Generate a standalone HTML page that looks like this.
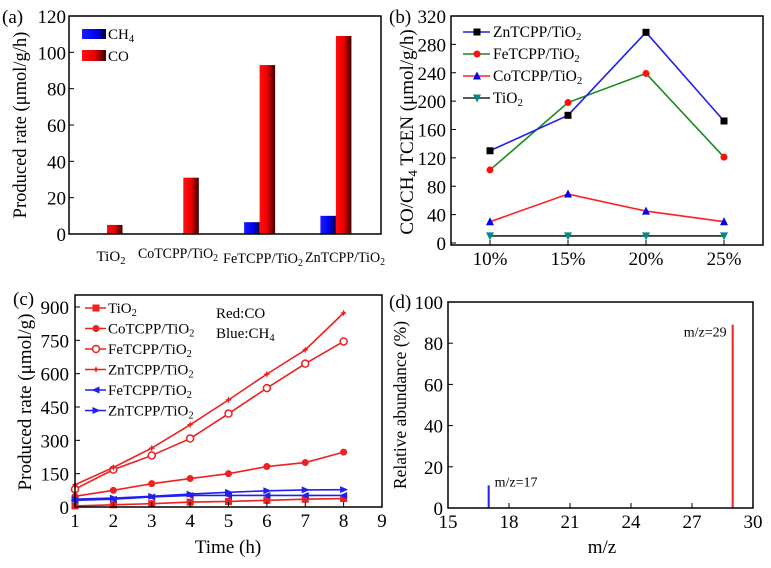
<!DOCTYPE html>
<html><head><meta charset="utf-8"><style>
body{margin:0;background:#fff}
svg{display:block;font-family:"Liberation Serif",serif}
</style></head><body>
<svg id="fig" width="771" height="568" viewBox="0 0 771 568"></svg>
<script>
// ---- data ----
const aCategories=["TiO2","CoTCPP/TiO2","FeTCPP/TiO2","ZnTCPP/TiO2"];
const aCH4=[0,0,6.5,10];
const aCO=[5,31,93,109];
const aTicks=[0,20,40,60,80,100,120];

const bCategories=["10%","15%","20%","25%"];
const bZn=[130,180,297,172];
const bFe=[103,198,239,121];
const bCo=[30,69,45,30];
const bTi=[10,10,10,10];
const bTicks=[0,40,80,120,160,200,240,280,320];

const cTimes=[1,2,3,4,5,6,7,8];
const cTiCO=[5,10,15,22,25,30,35,38];
const cCoCO=[48,75,105,128,150,182,200,247];
const cFeCO=[80,168,232,308,420,535,645,745];
const cZnCO=[100,178,265,370,482,598,707,873];
const cFeCH4=[30,35,45,52,52,52,52,52];
const cZnCH4=[35,40,48,58,66,73,77,78];
const cYTicks=[0,150,300,450,600,750,900];
const cXTicks=[1,2,3,4,5,6,7,8,9];

const dMz=[17,29];
const dAbund=[11,89];
const dLabels=["m/z=17","m/z=29"];
const dXTicks=[15,18,21,24,27,30];
const dYTicks=[0,20,40,60,80,100];

const NS="http://www.w3.org/2000/svg";
const svg=document.getElementById('fig');
const TF=19;
function el(tag,attrs,parent,text){const e=document.createElementNS(NS,tag);for(const k in attrs)e.setAttribute(k,attrs[k]);if(text!==undefined)e.textContent=text;(parent||svg).appendChild(e);return e;}
function sub(parent,x,y,base,subs,size,anchor,extra){
  const t=el('text',Object.assign({x:x,y:y,'font-size':size,'text-anchor':anchor||'start'},extra||{}),parent);
  const m=base.match(/^(.*?)(\d)(.*)$/);
  if(subs&&m){el('tspan',{},t,m[1]);el('tspan',{dy:3,'font-size':size*0.7},t,m[2]);if(m[3])el('tspan',{dy:-3},t,m[3]);}
  else t.textContent=base;
  return t;
}
function box(g,x0,y0,x1,y1){const r=el('rect',{x:x0,y:y0,width:x1-x0,height:y1-y0,fill:'none',stroke:'#000','stroke-width':1.5},g);}

// ===== Panel A =====
(function(){
  const g=el('g',{});
  const X0=69,X1=381,Y0=16,Y1=234;
  const ys=v=>Y1-(v/120)*(Y1-Y0);
  const gx=i=>107+i*76.3;
  const defs=el('defs',{},g);
  const lg=el('linearGradient',{id:'redg',x1:0,x2:1,y1:0,y2:0},defs);
  el('stop',{offset:0,'stop-color':'#ff1010'},lg);el('stop',{offset:0.5,'stop-color':'#ee0000'},lg);el('stop',{offset:1,'stop-color':'#3a0000'},lg);
  const lb=el('linearGradient',{id:'blueg',x1:0,x2:1,y1:0,y2:0},defs);
  el('stop',{offset:0,'stop-color':'#1a1aff'},lb);el('stop',{offset:0.6,'stop-color':'#0000ee'},lb);el('stop',{offset:1,'stop-color':'#00003a'},lb);
  const lblX=[111,178,263,345];
  const lblY=[261,258,263,262];
  aCategories.forEach((c,i)=>{
    if(aCH4[i]>0){const r=el('rect',{x:gx(i)-15.5,y:ys(aCH4[i]),width:15.5,height:Y1-ys(aCH4[i]),fill:'url(#blueg)'},g);}
    const r2=el('rect',{x:gx(i),y:ys(aCO[i]),width:15.5,height:Y1-ys(aCO[i]),fill:'url(#redg)'},g);
    const t=sub(g,lblX[i],lblY[i],c,true,15,'middle',i>0?{textLength:80,lengthAdjust:'spacingAndGlyphs'}:{});
  });
  box(g,X0,Y0,X1,Y1);
  aTicks.forEach(v=>{el('line',{x1:X0,x2:X0+5,y1:ys(v),y2:ys(v),stroke:'#000'},g);
    const t=el('text',{x:X0-3,y:ys(v)+7,'font-size':TF,'text-anchor':'end'},g,v);});
  const p=el('text',{x:2,y:23,'font-size':TF},g,'(a)');
  const yt=el('text',{transform:'translate(26,125) rotate(-90)','font-size':18.5,'text-anchor':'middle'},g,'Produced rate (μmol/g/h)');
  el('rect',{x:82,y:29,width:24,height:10,fill:'url(#blueg)'},g);
  const l1=sub(g,108,39,'CH4',true,15);
  el('rect',{x:82,y:50,width:24,height:11,fill:'url(#redg)'},g);
  const l2=el('text',{x:108,y:61,'font-size':15},g,'CO');
})();

function marker(g,type,x,y,color,s){
  s=s||3.5;
  if(type=='sq')return el('rect',{x:x-s,y:y-s,width:2*s,height:2*s,fill:color},g);
  if(type=='ci')return el('circle',{cx:x,cy:y,r:s,fill:color},g);
  if(type=='oc')return el('circle',{cx:x,cy:y,r:s,fill:'#fff',stroke:color,'stroke-width':1.5},g);
  if(type=='tu')return el('polygon',{points:`${x},${y-s-1} ${x-s-0.5},${y+s} ${x+s+0.5},${y+s}`,fill:color},g);
  if(type=='td')return el('polygon',{points:`${x},${y+s+1} ${x-s-0.5},${y-s} ${x+s+0.5},${y-s}`,fill:color},g);
  if(type=='tl')return el('polygon',{points:`${x-s-1},${y} ${x+s},${y-s} ${x+s},${y+s}`,fill:color},g);
  if(type=='tr')return el('polygon',{points:`${x+s+1},${y} ${x-s},${y-s} ${x-s},${y+s}`,fill:color},g);
  if(type=='st')return el('polygon',{points:`${x},${y-s} ${x+1},${y-1} ${x+s},${y} ${x+1},${y+1} ${x},${y+s} ${x-1},${y+1} ${x-s},${y} ${x-1},${y-1}`,fill:color},g);
}
function series(g,xs,ys,xf,yf,color,mk,mcolor,name){
  const pts=xs.map((x,i)=>xf(x,i)+','+yf(ys[i])).join(' ');
  const pl=el('polyline',{points:pts,fill:'none',stroke:color,'stroke-width':1.6},g);
  
  xs.forEach((x,i)=>{const m=marker(g,mk,xf(x,i),yf(ys[i]),mcolor);});
}

// ===== Panel B =====
(function(){
  const g=el('g',{});
  const X0=451,X1=763,Y0=16,Y1=245;
  const ys=v=>243-(v/320)*(243-16);
  const xf=(c,i)=>490+i*78;
  series(g,bCategories,bTi,xf,ys,'#222','td','#008b8b','line-tio2');
  series(g,bCategories,bCo,xf,ys,'#ff2020','tu','#0000ee','line-cotcpp');
  series(g,bCategories,bFe,xf,ys,'#1a8a1a','ci','#ff1010','line-fetcpp');
  series(g,bCategories,bZn,xf,ys,'#2020ee','sq','#000','line-zntcpp');
  box(g,X0,Y0,X1,Y1);
  bTicks.forEach(v=>{el('line',{x1:X0,x2:X0+5,y1:ys(v),y2:ys(v),stroke:'#000'},g);
    const t=el('text',{x:X0-5,y:ys(v)+7,'font-size':TF,'text-anchor':'end'},g,v);});
  bCategories.forEach((c,i)=>{el('line',{x1:xf(c,i),x2:xf(c,i),y1:Y1,y2:Y1-5,stroke:'#000'},g);
    const t=el('text',{x:xf(c,i),y:265,'font-size':TF,'text-anchor':'middle'},g,c);});
  const p=el('text',{x:389,y:23,'font-size':TF},g,'(b)');
  const yt=el('text',{transform:'translate(413,132) rotate(-90)','font-size':19,'text-anchor':'middle'},g);
  el('tspan',{},yt,'CO/CH');el('tspan',{dy:4,'font-size':13},yt,'4');el('tspan',{dy:-4},yt,' TCEN (μmol/g/h)');
  
  const leg=[['ZnTCPP/TiO2','#2020ee','sq','#000'],['FeTCPP/TiO2','#1a8a1a','ci','#ff1010'],['CoTCPP/TiO2','#ff2020','tu','#0000ee'],['TiO2','#222','td','#008b8b']];
  leg.forEach((l,i)=>{const y=32+i*22;
    el('line',{x1:463,x2:490,y1:y,y2:y,stroke:l[1],'stroke-width':1.6},g);marker(g,l[2],477,y,l[3]);
    const t=sub(g,493,y+5,l[0],true,15.5);});
})();

// ===== Panel C =====
(function(){
  const g=el('g',{});
  const X0=75,X1=382,Y0=295,Y1=507;
  const ys=v=>Y1-(v/900)*(Y1-307);
  const xf=x=>X0+(x-1)*(X1-X0)/8;
  series(g,cTimes,cTiCO,xf,ys,'#ee2020','sq','#ee2020','line-tio2-co');
  series(g,cTimes,cCoCO,xf,ys,'#ee2020','ci','#ee2020','line-cotcpp-co');
  series(g,cTimes,cFeCO,xf,ys,'#ee2020','oc','#ee2020','line-fetcpp-co');
  series(g,cTimes,cZnCO,xf,ys,'#ee2020','st','#ee2020','line-zntcpp-co');
  series(g,cTimes,cFeCH4,xf,ys,'#2020ee','tl','#2020ee','line-fetcpp-ch4');
  series(g,cTimes,cZnCH4,xf,ys,'#2020ee','tr','#2020ee','line-zntcpp-ch4');
  box(g,X0,Y0,X1,Y1);
  cYTicks.forEach(v=>{el('line',{x1:X0,x2:X0+5,y1:ys(v),y2:ys(v),stroke:'#000'},g);
    const t=el('text',{x:X0-6,y:ys(v)+7,'font-size':TF,'text-anchor':'end'},g,v);});
  cXTicks.forEach(v=>{el('line',{x1:xf(v),x2:xf(v),y1:Y1,y2:Y1-5,stroke:'#000'},g);
    const t=el('text',{x:xf(v),y:527,'font-size':TF,'text-anchor':'middle'},g,v);});
  const p=el('text',{x:13,y:305,'font-size':TF},g,'(c)');
  const yt=el('text',{transform:'translate(31,402) rotate(-90)','font-size':19,'text-anchor':'middle'},g,'Produced rate (μmol/g)');
  const xt=el('text',{x:228,y:553,'font-size':19,'text-anchor':'middle'},g,'Time (h)');
  const leg=[['TiO2','#ee2020','sq'],['CoTCPP/TiO2','#ee2020','ci'],['FeTCPP/TiO2','#ee2020','oc'],['ZnTCPP/TiO2','#ee2020','st'],['FeTCPP/TiO2','#2020ee','tl'],['ZnTCPP/TiO2','#2020ee','tr']];
  leg.forEach((l,i)=>{const y=308+i*20.5;
    el('line',{x1:85,x2:106,y1:y,y2:y,stroke:l[1],'stroke-width':1.6},g);marker(g,l[2],96,y,l[1]);
    const t=sub(g,108,y+5,l[0],true,15);});
  const r1=el('text',{x:216,y:318,'font-size':15},g,'Red:CO');
  const r2=sub(g,216,338,'Blue:CH4',true,15);
})();

// ===== Panel D =====
(function(){
  const g=el('g',{});
  const X0=448,X1=753,Y0=302,Y1=508;
  const ys=v=>Y1-(v/100)*(Y1-Y0);
  const xf=x=>X0+(x-15)*(X1-X0)/15;
  const cols=['#2020ee','#ee2020'];
  dMz.forEach((m,i)=>{const l=el('line',{x1:xf(m),x2:xf(m),y1:Y1,y2:ys(dAbund[i]),stroke:cols[i],'stroke-width':2},g);
    const t=el('text',{x:i==0?xf(m)+6:xf(m)-6,y:ys(dAbund[i])-(i==0?-1:-12),'font-size':14,'text-anchor':i==0?'start':'end'},g,dLabels[i]);});
  box(g,X0,Y0,X1,Y1);
  dYTicks.forEach(v=>{el('line',{x1:X0,x2:X0+5,y1:ys(v),y2:ys(v),stroke:'#000'},g);
    const t=el('text',{x:X0-5,y:ys(v)+7,'font-size':TF,'text-anchor':'end'},g,v);});
  dXTicks.forEach(v=>{el('line',{x1:xf(v),x2:xf(v),y1:Y1,y2:Y1-5,stroke:'#000'},g);
    const t=el('text',{x:xf(v),y:528,'font-size':TF,'text-anchor':'middle'},g,v);});
  const p=el('text',{x:389,y:308,'font-size':TF},g,'(d)');
  const yt=el('text',{transform:'translate(406,405) rotate(-90)','font-size':17.5,'text-anchor':'middle'},g,'Relative abundance (%)');
  const xt=el('text',{x:602,y:553,'font-size':19,'text-anchor':'middle'},g,'m/z');
})();
</script>
</body></html>
